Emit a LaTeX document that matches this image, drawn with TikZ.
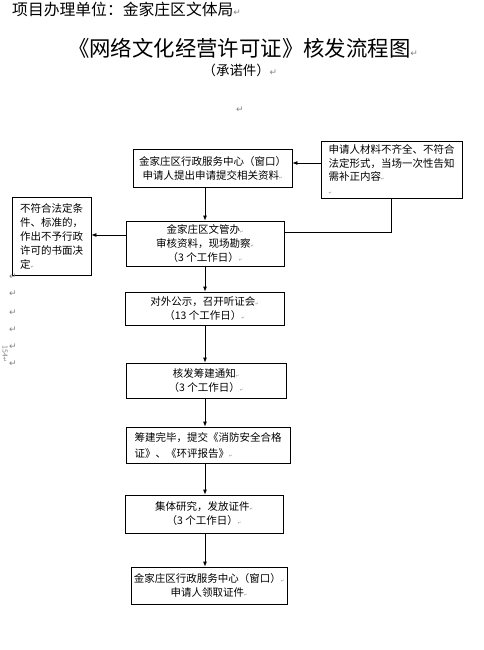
\documentclass[tikz,border=0pt]{standalone}
\usepackage{fontspec}
\setmainfont{Noto Sans CJK SC}
\newfontfamily\symf{DejaVu Sans}
\usetikzlibrary{arrows.meta}
\definecolor{markgray}{RGB}{130,130,130}
\newcommand{\retmark}[1][4]{{\symf\fontsize{#1}{#1}\selectfont\textcolor{markgray}{↵}}}
\begin{document}
\begin{tikzpicture}[x=1pt,y=-1pt,
  box/.style={draw, line width=0.8pt, inner sep=0pt, align=center,
    font=\fontsize{10.5}{14}\selectfont},
  arr/.style={-{Latex[length=5pt,width=4pt]}, line width=0.8pt},
  ln/.style={line width=0.8pt},
  retm/.style={inner sep=0pt, font=\symf\fontsize{9}{9}\selectfont, text=markgray}]
\useasboundingbox (0,0) rectangle (483,650);

% header texts
\node[anchor=west, inner sep=0pt, font=\fontsize{15.8}{16}\selectfont] (hdr) at (12,9) {项目办理单位：金家庄区文体局\retmark[9]};
\node[inner sep=0pt, font=\fontsize{21.4}{22}\selectfont] (title) at (243,48) {《网络文化经营许可证》核发流程图\retmark[9]};
\node[inner sep=0pt, font=\fontsize{13.4}{14}\selectfont] (sub) at (240,70) {（承诺件）\retmark[9]};
\node[retm] (m0) at (240,110) {↵};

% boxes
\node[box, minimum width=159pt, minimum height=38pt] (b1) at (212.5,168)
  {金家庄区行政服务中心（窗口）\\申请人提出申请提交相关资料\retmark};
\node[box, minimum width=158pt, minimum height=45pt] (b2) at (205,243.5)
  {金家庄区文管办\retmark\\审核资料，现场勘察\retmark\\（3 个工作日）\retmark};
\node[box, minimum width=159pt, minimum height=33pt] (b3) at (204.5,308.5)
  {对外公示，召开听证会\retmark\\（13 个工作日）\retmark};
\node[box, minimum width=160pt, minimum height=35pt] (b4) at (206,380.5)
  {核发筹建通知\retmark\\（3 个工作日）\retmark};
\node[box, align=left, minimum width=164pt, minimum height=36pt,
  font=\fontsize{10.5}{16}\selectfont] (b5) at (208,445)
  {筹建完毕，提交《消防安全合格\\证》、《环评报告》\retmark};
\node[box, minimum width=158pt, minimum height=38pt] (b6) at (204,514)
  {集体研究，发放证件\retmark\\（3 个工作日）\retmark};
\node[box, minimum width=156pt, minimum height=37pt] (b7) at (209,585.5)
  {金家庄区行政服务中心（窗口）\retmark\\申请人领取证件\retmark};
\node[box, align=left, minimum width=79pt, minimum height=78pt] (lb) at (51.5,236)
  {不符合法定条\\件、标准的，\\作出不予行政\\许可的书面决\\定\retmark};
\node[box, align=left, minimum width=141pt, minimum height=57pt,
  font=\fontsize{10.5}{13.5}\selectfont] (rb) at (391.5,169.5)
  {申请人材料不齐全、不符合\\法定形式，当场一次性告知\\需补正内容\retmark\\\retmark};

% connectors
\coordinate (ya) at (0,163);
\coordinate (yb) at (0,235);
\coordinate (j) at (391.5,232);
\draw[arr] (b1.south -| b2.north) -- (b2.north);
\draw[arr] (b2.south) -- (b2.south |- b3.north);
\draw[arr] (b3.south -| b2.south) -- (b2.south |- b4.north);
\draw[arr] (b4.south -| b2.south) -- (b2.south |- b5.north);
\draw[arr] (b5.south -| b2.south) -- (b2.south |- b6.north);
\draw[arr] (b6.south -| b2.south) -- (b2.south |- b7.north);
\draw[arr] (rb.west |- ya) -- (b1.east |- ya);
\draw[ln] (rb.south) -- (j) -- (j -| b2.east);
\draw[arr] (b2.west |- yb) -- (lb.east |- yb);

% margin marks
\foreach \yy [count=\i] in {277,294,313,330,347,364}
  \node[retm] (lm\i) at (13,\yy) {↵};
\node[inner sep=0pt, rotate=-90, font=\fontsize{7}{7}\selectfont, text=markgray] (pg) at (5,354) {154\retmark[6]};
\end{tikzpicture}
\end{document}
